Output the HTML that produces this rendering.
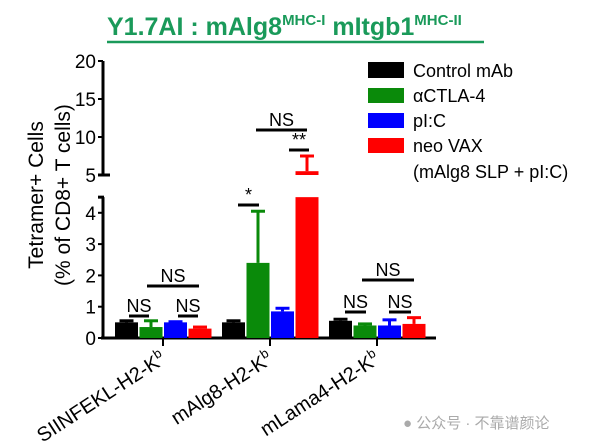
<!DOCTYPE html>
<html><head><meta charset="utf-8"><style>
body{margin:0;background:#fff;}
svg{display:block;font-family:"Liberation Sans","Noto Sans CJK SC",sans-serif;}
</style></head><body>
<svg id="c" width="596" height="447" xmlns="http://www.w3.org/2000/svg">
<text x="107" y="35" font-size="25" font-weight="bold" fill="#1a9a5a">Y1.7AI : mAlg8<tspan font-size="15" dy="-10">MHC-I</tspan><tspan dy="10"> mItgb1</tspan><tspan font-size="15" dy="-10">MHC-II</tspan></text>
<line x1="107" y1="42" x2="484" y2="42" stroke="#1a9a5a" stroke-width="2.5"/>
<text transform="translate(43,195) rotate(-90)" text-anchor="middle" font-size="21">Tetramer+ Cells</text>
<text transform="translate(70,195) rotate(-90)" text-anchor="middle" font-size="21">(% of CD8+ T cells)</text>
<g id="axes"></g><g id="bars"></g><g id="sig"></g>
<g font-size="18">
<rect x="368" y="62" width="36" height="16" fill="#000"/><text x="413" y="77">Control mAb</text>
<rect x="368" y="88" width="36" height="15" fill="#0a8a0a"/><text x="413" y="102">αCTLA-4</text>
<rect x="368" y="113" width="36" height="15" fill="#0000ff"/><text x="413" y="127">pI:C</text>
<rect x="368" y="138" width="36" height="15" fill="#ff0000"/><text x="413" y="152">neo VAX</text>
<text x="413" y="178">(mAlg8 SLP + pI:C)</text>
</g>
<text x="403" y="428" font-size="15" fill="#aaa">● 公众号 · 不靠谱颜论</text>
</svg>
<script>
const categories=["SIINFEKL-H2-K","mAlg8-H2-K","mLama4-H2-K"];
const seriesNames=["Control mAb","αCTLA-4","pI:C","neo VAX"];
const colors=["#000","#0a8a0a","#0000ff","#ff0000"];
const means=[[0.5,0.35,0.5,0.3],[0.5,2.4,0.85,5.5],[0.55,0.4,0.4,0.45]];
const errs=[[0.55,0.55,0.52,0.35],[0.55,4.05,0.95,7.5],[0.6,0.45,0.58,0.65]];
const lowTicks=[0,1,2,3,4];
const highTicks=[5,10,15,20];
const NS="http://www.w3.org/2000/svg";
function yLow(v){return 338-v*31.3;}
function yHigh(v){return 175-(v-5)*7.6;}
function y(v){return v<=4.5?yLow(v):yHigh(v);}
const xC=[163,270,377];
function xBar(g,s){return xC[g]-48+s*24.5;}
function mk(p,t,a){const e=document.createElementNS(NS,t);for(const k in a)e.setAttribute(k,a[k]);p.appendChild(e);return e;}
const ax=document.getElementById('axes');
let e;
e=mk(ax,'line',{x1:103,y1:yLow(0),x2:103,y2:yLow(4.5),stroke:'#000','stroke-width':3});

e=mk(ax,'line',{x1:103,y1:yHigh(5),x2:103,y2:yHigh(20),stroke:'#000','stroke-width':3});

e=mk(ax,'line',{x1:98,y1:yLow(4.5),x2:104,y2:yLow(4.5),stroke:'#000','stroke-width':3});

e=mk(ax,'line',{x1:101,y1:338,x2:436,y2:338,stroke:'#000','stroke-width':3});

lowTicks.forEach(v=>{e=mk(ax,'line',{x1:98,y1:yLow(v),x2:103,y2:yLow(v),stroke:'#000','stroke-width':2});

e=mk(ax,'text',{x:96,y:yLow(v)+7,'text-anchor':'end','font-size':19});e.textContent=v;
});
highTicks.forEach(v=>{e=mk(ax,'line',{x1:98,y1:yHigh(v),x2:(v==5?110:103),y2:yHigh(v),stroke:'#000','stroke-width':v==5?3:2});

e=mk(ax,'text',{x:96,y:yHigh(v)+7,'text-anchor':'end','font-size':19});e.textContent=v;
});
categories.forEach((c,g)=>{e=mk(ax,'line',{x1:xC[g],y1:338,x2:xC[g],y2:346,stroke:'#000','stroke-width':2});

e=mk(ax,'text',{x:0,y:0,'text-anchor':'end','font-size':20,transform:`translate(${xC[g]+4},${362}) rotate(-33)`});
e.textContent=c;const sp=document.createElementNS(NS,'tspan');sp.setAttribute('dy','-8');sp.setAttribute('font-size','13');sp.textContent='b';e.appendChild(sp);
});
const bg=document.getElementById('bars');
means.forEach((row,g)=>row.forEach((m,s)=>{
 const x=xBar(g,s),w=23,cx=x+w/2;
 if(m<=4.5){e=mk(bg,'rect',{x:x,y:yLow(m),width:w,height:338-yLow(m),fill:colors[s]});}
 else{e=mk(bg,'rect',{x:x,y:yLow(4.5),width:w,height:338-yLow(4.5),fill:colors[s]});
  
  e=mk(bg,'rect',{x:x,y:yHigh(m),width:w,height:yHigh(5)-yHigh(m),fill:colors[s]});}
 
 const ye=y(errs[g][s]);
 e=mk(bg,'line',{x1:cx,y1:y(m),x2:cx,y2:ye,stroke:colors[s],'stroke-width':3});
 
 e=mk(bg,'line',{x1:cx-7,y1:ye,x2:cx+7,y2:ye,stroke:colors[s],'stroke-width':3});
 
}));
const sg=document.getElementById('sig');
function sig(x1,x2,yy,t){e=mk(sg,'line',{x1:x1,y1:yy,x2:x2,y2:yy,stroke:'#000','stroke-width':3});
 
 e=mk(sg,'text',{x:(x1+x2)/2,y:yy-4,'text-anchor':'middle','font-size':18});e.textContent=t;
 }
sig(129,149,316,'NS');sig(178,198,316,'NS');sig(147,199,286,'NS');
sig(238,259,205,'*');sig(289,309,150,'**');sig(256,307,130,'NS');
sig(345,366,312,'NS');sig(389,411,312,'NS');sig(362,414,280,'NS');
</script>
</body></html>
